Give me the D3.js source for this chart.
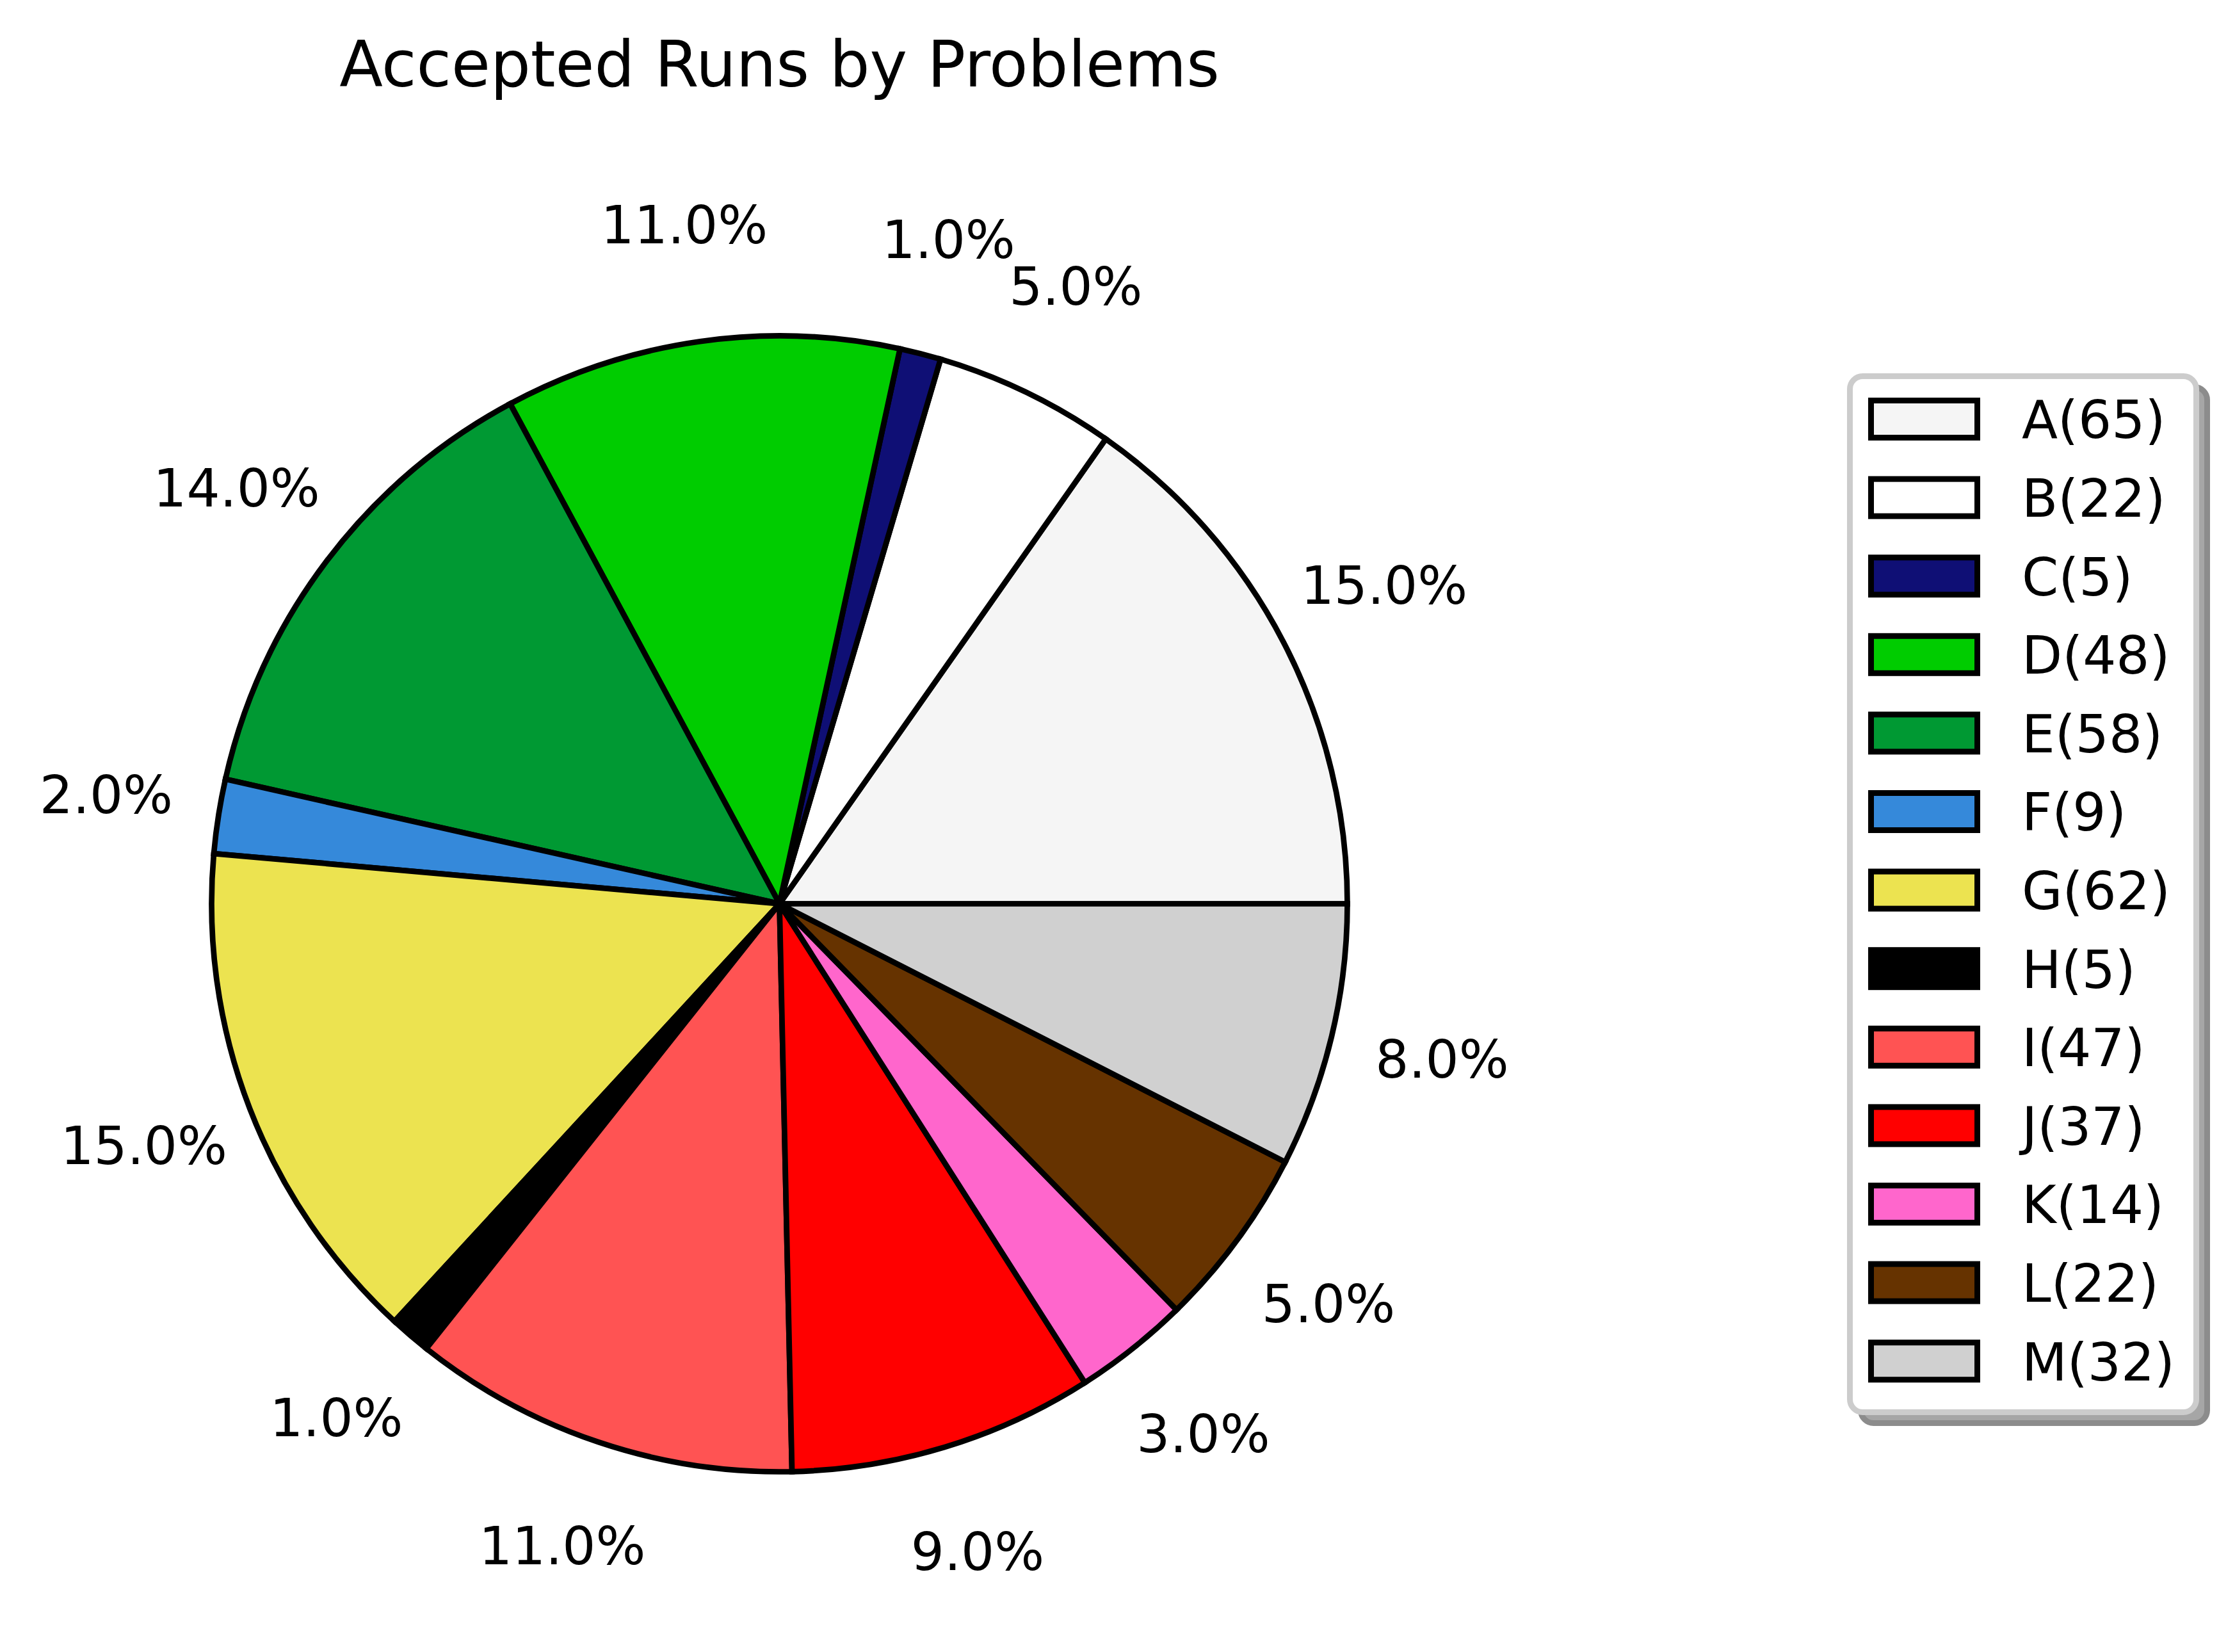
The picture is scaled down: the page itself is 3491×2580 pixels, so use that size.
<!DOCTYPE html>
<html>
<head>
<meta charset="utf-8">
<script src="https://cdn.jsdelivr.net/npm/d3@7"></script>
<style>
  html, body { margin: 0; padding: 0; background: #fff; }
  text { font-family: "DejaVu Sans", sans-serif; fill: #000; }
</style>
</head>
<body>
<div id="chart"></div>
<script>
// accepted runs per problem
const problems = ["A", "B", "C", "D", "E", "F", "G", "H", "I", "J", "K", "L", "M"];
const runs = [65, 22, 5, 48, 58, 9, 62, 5, 47, 37, 14, 22, 32];
const sliceColors = ["#f5f5f5", "#ffffff", "#0f0f75", "#00cc00", "#009933", "#3589da",
                     "#ece350", "#000000", "#ff5353", "#ff0000", "#ff66cc", "#663300", "#d0d0d0"];
const chartTitle = "Accepted Runs by Problems";

const width = 3491;
const height = 2580;
const cx = 1217.5;
const cy = 1411.5;
const radius = 887;
const labelFont = 82;

const data = problems.map((p, i) => ({ name: p, value: runs[i], color: sliceColors[i] }));
const total = d3.sum(runs);

const svg = d3.create("svg")
    .attr("width", width)
    .attr("height", height)
    .attr("viewBox", [0, 0, width, height]);

svg.append("rect")
    .attr("width", width)
    .attr("height", height)
    .attr("fill", "#fff");

// matplotlib style: start at 3 o'clock, go counter-clockwise
const pie = d3.pie()
    .sort(null)
    .value(d => d.value)
    .startAngle(Math.PI / 2)
    .endAngle(Math.PI / 2 - 2 * Math.PI);

const arcs = pie(data);

const arc = d3.arc()
    .innerRadius(0)
    .outerRadius(radius);

const labelArc = d3.arc()
    .innerRadius(radius * 1.2)
    .outerRadius(radius * 1.2);

const g = svg.append("g")
    .attr("transform", `translate(${cx},${cy})`);

g.selectAll("path")
  .data(arcs)
  .join("path")
    .attr("d", arc)
    .attr("fill", d => d.data.color)
    .attr("stroke", "#000")
    .attr("stroke-width", 8.7)
    .attr("stroke-linejoin", "miter");

g.append("g")
    .attr("font-size", labelFont)
    .attr("text-anchor", "middle")
  .selectAll("text")
  .data(arcs)
  .join("text")
    .attr("x", d => labelArc.centroid(d)[0])
    .attr("y", d => labelArc.centroid(d)[1] + 0.275 * labelFont)
    .text(d => Math.round(d.data.value / total * 100).toFixed(1) + "%");

svg.append("text")
    .attr("x", cx)
    .attr("y", 135)
    .attr("font-size", 99)
    .attr("text-anchor", "middle")
    .text(chartTitle);

// legend with shadow
const legX = 2889.5, legY = 587.5, legW = 541, legH = 1618;
const legend = svg.append("g");

legend.append("rect")
    .attr("x", legX + 17)
    .attr("y", legY + 17)
    .attr("width", legW)
    .attr("height", legH)
    .attr("rx", 20)
    .attr("fill", "#a6a6a6")
    .attr("stroke", "#8c8c8c")
    .attr("stroke-width", 9);

legend.append("rect")
    .attr("x", legX)
    .attr("y", legY)
    .attr("width", legW)
    .attr("height", legH)
    .attr("rx", 20)
    .attr("fill", "#fff")
    .attr("stroke", "#cccccc")
    .attr("stroke-width", 9);

const rowStep = 122.6;
const rows = legend.selectAll("g.row")
  .data(data)
  .join("g")
    .attr("class", "row")
    .attr("transform", (d, i) => `translate(0,${625.5 + i * rowStep})`);

rows.append("rect")
    .attr("x", 2922.5)
    .attr("y", 0)
    .attr("width", 166)
    .attr("height", 58)
    .attr("fill", d => d.color)
    .attr("stroke", "#000")
    .attr("stroke-width", 9);

rows.append("text")
    .attr("x", 3158)
    .attr("y", 29 + 0.364 * labelFont)
    .attr("font-size", labelFont)
    .text(d => `${d.name}(${d.value})`);

d3.select("#chart").node().append(svg.node());
</script>
</body>
</html>
